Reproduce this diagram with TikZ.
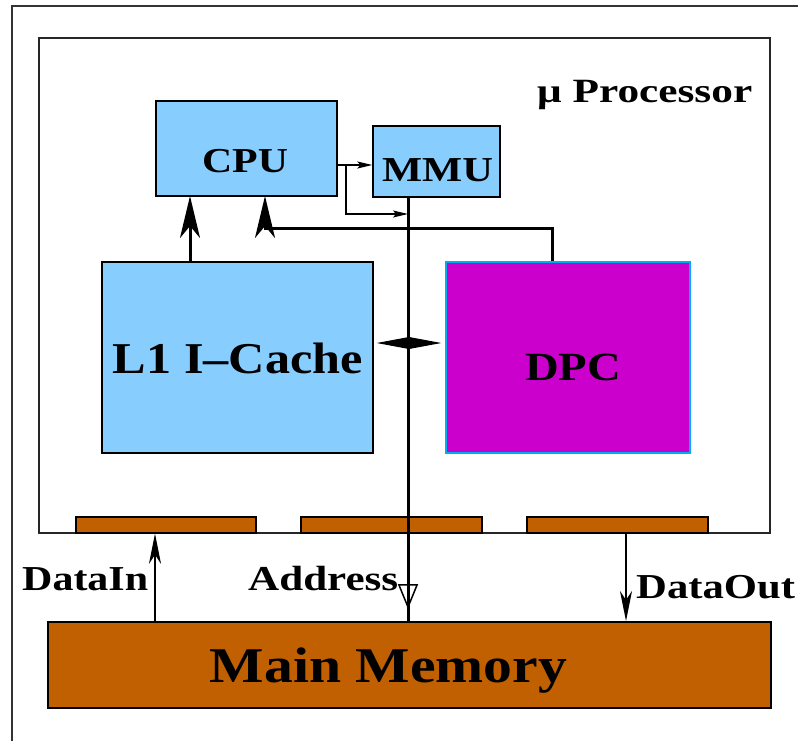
\documentclass[tikz,border=0pt]{standalone}
\usepackage{fontspec}
\setmainfont{Liberation Serif}
\usetikzlibrary{arrows.meta,decorations.markings,calc}

% stretch a label horizontally to a given width, keeping its height
\newcommand\wlabel[3]{{\fontsize{#1}{#1}\selectfont\bfseries\resizebox{#2}{\height}{#3}}}

\definecolor{ltblue}{RGB}{135,206,255}
\definecolor{dpcmag}{RGB}{204,0,204}
\definecolor{padbrown}{RGB}{192,96,0}

\begin{document}
\begin{tikzpicture}[x=1pt,y=-1pt,
  blk/.style={draw=black, line width=1.4pt, inner sep=0pt},
  txt/.style={anchor=base, inner sep=0pt, text=black},
  fat/.style={line width=3pt, -{Stealth[length=42pt,width=20pt,inset=12pt]}},
  med/.style={line width=2.5pt, -{Stealth[length=30pt,width=12pt,inset=9pt]}},
  fine/.style={line width=1.3pt, -{Stealth[length=15pt,width=7pt,inset=3pt]}},
  bus/.style={line width=3pt}]

\useasboundingbox (0,0) rectangle (798,740);
\clip (0,0) rectangle (798,740);

% outer frame, running off the right and bottom
\draw[line width=2pt, black!80] (12,760) -- (12,6) -- (820,6);

% processor chip
\node[blk, draw=black!85, minimum width=731pt, minimum height=495pt] (chip) at (404.5,285.5) {};
\node[txt, anchor=base west] (chiplbl) at (537,102) {\wlabel{34pt}{215pt}{μ Processor}};

% bus pads along the bottom edge of the chip
\node[blk, fill=padbrown, minimum width=180pt, minimum height=16pt] (pad1) at (166,525) {};
\node[blk, fill=padbrown, minimum width=181pt, minimum height=16pt] (pad2) at (391.5,525) {};
\node[blk, fill=padbrown, minimum width=181pt, minimum height=16pt] (pad3) at (617.5,525) {};

% functional units
\node[blk, fill=ltblue, minimum width=181pt, minimum height=95pt] (cpu) at (246.5,148.5) {};
\node[txt] (cpulbl) at (245,172) {\wlabel{35pt}{86pt}{CPU}};

\node[blk, fill=ltblue, minimum width=127pt, minimum height=71pt] (mmu) at (436.5,161.5) {};
\node[txt] (mmulbl) at (437.5,181) {\wlabel{35pt}{111pt}{MMU}};

\node[blk, fill=ltblue, minimum width=271pt, minimum height=191pt] (l1) at (237.5,357.5) {};
\node[txt] (l1lbl) at (238,373) {\wlabel{44pt}{250pt}{L1 I--Cache}};

\node[blk, draw=cyan, fill=dpcmag, minimum width=244pt, minimum height=191pt] (dpc) at (568,357.5) {};
\node[txt] (dpclbl) at (573,380) {\wlabel{40pt}{96pt}{DPC}};

% main memory
\node[blk, line width=2pt, fill=padbrown, minimum width=723pt, minimum height=86pt] (mm) at (409.5,665) {};
\node[txt] (mmlbl) at (388.5,682) {\wlabel{50pt}{357pt}{Main Memory}};

% port coordinates
\coordinate (bt) at (408,197);
\coordinate (cpuout) at (337,165);
\coordinate (cin1) at (190,196);
\coordinate (cin2) at (265,196);
\coordinate (dmid) at (408,343);

% address bus from the MMU down to main memory
\draw[bus, postaction={decorate}, decoration={markings,
  mark=at position 0.972 with {\arrow[line width=1.5pt]{Triangle[open,length=25pt,width=20pt]}}}]
  (bt) -- (bt |- mm.north);

% CPU to MMU, and CPU onto the bus
\draw[fine] (cpuout) -- (cpuout -| mmu.west);
\draw[fine] ($(cpuout)+(9,0)$) |- (bt |- 0,214);

% instruction cache and DPC into the CPU
\draw[fat] (cin1 |- l1.north) -- (cin1);
\draw[fat] (552,0 |- dpc.north) |- (265,228) -- (cin2);

% cache and DPC on the bus
\draw[line width=1pt, {Triangle[length=33pt,width=12pt]}-{Triangle[length=33pt,width=12pt]},
  shorten <=3pt, shorten >=4pt] (dmid -| l1.east) -- (dmid -| dpc.west);

% memory data lines
\draw[med] (155,0 |- mm.north) -- (155,0 |- pad1.south);
\draw[med] (626,0 |- pad3.south) -- (626,0 |- mm.north);

% signal names
\node[txt, anchor=base west] (dinlbl) at (22,590) {\wlabel{35pt}{126pt}{DataIn}};
\node[txt, anchor=base west] (addrlbl) at (248,590) {\wlabel{35pt}{150pt}{Address}};
\node[txt, anchor=base west] (doutlbl) at (636,598) {\wlabel{35pt}{159pt}{DataOut}};
\end{tikzpicture}
\end{document}
